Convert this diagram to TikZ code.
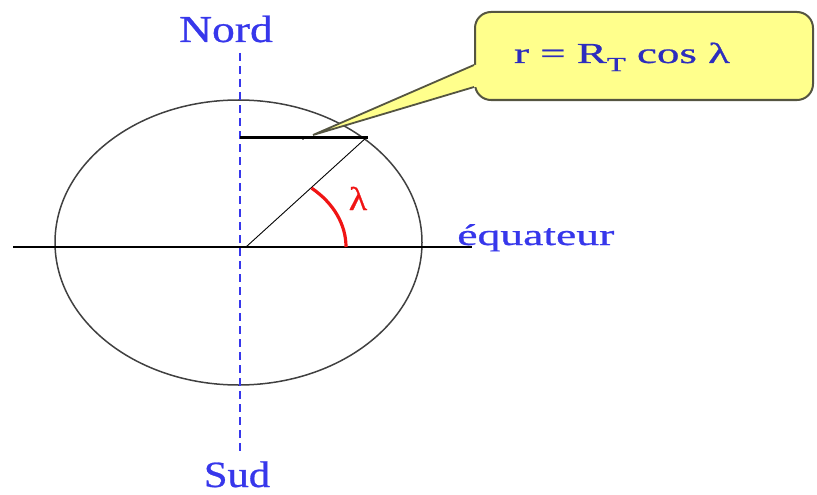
\documentclass[tikz,border=0pt]{standalone}
\usepackage{fontspec}
\setmainfont{Liberation Serif}[BoldFont={Liberation Serif}, BoldFeatures={FakeBold=0.7}]
\definecolor{lblue}{RGB}{55,55,235}
\definecolor{tblue}{RGB}{45,45,190}
\definecolor{callfill}{RGB}{255,255,140}
\definecolor{callborder}{RGB}{85,85,65}
\definecolor{arcred}{RGB}{240,20,20}
\tikzset{
  lab/.style={text=lblue, inner sep=0pt, transform shape},
  axis/.style={black, line width=1.4pt},
  poleaxis/.style={lblue, line width=2.4pt, dash pattern=on 8pt off 5pt},
  earth/.style={draw=black!75, line width=1.5pt},
  callbox/.style={draw=callborder, fill=callfill, line width=2pt, rounded corners=16pt, minimum width=338pt, minimum height=88pt, inner sep=0pt},
}
\begin{document}
\begin{tikzpicture}[x=1pt,y=-1pt]
\useasboundingbox (0,0) rectangle (817,495);
% Earth
\draw[earth] (238.5,242.5) ellipse [x radius=183.5, y radius=142.5];
% equator
\coordinate (eqW) at (13,247);
\coordinate (eqE) at (472,247);
\draw[axis] (eqW) -- (eqE);
% pole axis
\coordinate (poleN) at (240,53);
\coordinate (poleS) at (240,453);
\draw[poleaxis] (poleN) -- (poleS);
% labels
\node[lab, anchor=base, xscale=1.2, font=\fontsize{38}{40}\selectfont\bfseries] (nord) at (226,42) {Nord};
\node[lab, anchor=base, xscale=1.15, font=\fontsize{37}{40}\selectfont\bfseries] (sud) at (237,487) {Sud};
\node[lab, anchor=base west, xscale=1.52, font=\fontsize{30}{31}\selectfont\bfseries] (equ) at (457,245) {équateur};
% radius and r segment
\coordinate (O) at (246,247);
\coordinate (P) at (367,137);
\coordinate (Q) at (240,137);
\draw[black, line width=0.9pt] (O) -- (P);
\draw[black, line width=3pt] (Q) -- ([xshift=1pt]P);
\fill[black] (303,138) circle (1.8pt);
% angle arc
\draw[arcred, line width=3.2pt] ([xshift=100pt]O) arc[start angle=0, end angle=-49, x radius=100, y radius=78];
\node[text=arcred, anchor=base, inner sep=0pt, xscale=1.15, transform shape, font=\fontsize{33}{35}\selectfont\bfseries] (lam) at (358,210) {λ};
% callout
\node[callbox] (call) at (644,56) {};
\coordinate (tip) at (313,135);
\coordinate (b1) at ([yshift=-9pt]call.west);
\coordinate (b2) at ([yshift=-31pt]call.west);
\fill[callfill] (b1) -- (tip) -- (b2) -- ([xshift=3pt]b2) -- ([xshift=3pt]b1) -- cycle;
\draw[callborder, line width=1.8pt, line join=miter] (b1) -- (tip) -- (b2);
\node[text=tblue, anchor=base, inner sep=0pt, xscale=1.55, transform shape, font=\fontsize{29}{31}\selectfont\bfseries] (formula) at (622,63) {r = R\raisebox{-0.28em}{\fontsize{20}{20}\selectfont\bfseries T} cos λ};
\end{tikzpicture}
\end{document}
